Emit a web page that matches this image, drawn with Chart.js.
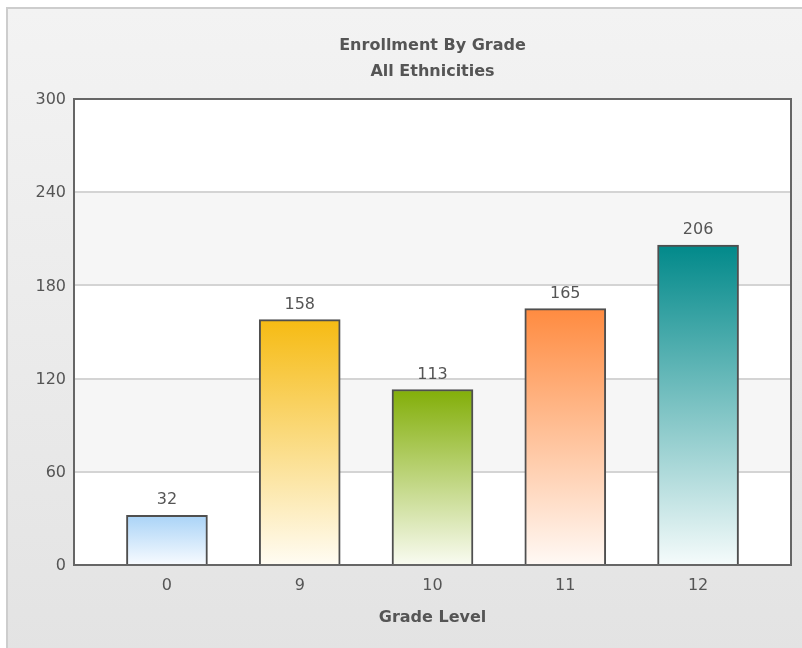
<!DOCTYPE html>
<html>
<head>
<meta charset="utf-8">
<script src="https://cdn.jsdelivr.net/npm/chart.js@4.4.1/dist/chart.umd.min.js"></script>
<style>
    html, body { margin: 0; padding: 0; background: #fff; overflow: hidden; }
    #panel {
        position: absolute; left: 6px; top: 7px; width: 800px; height: 645px;
        border-left: 2px solid #cdcdcd; border-top: 2px solid #cdcdcd;
        background: linear-gradient(#f3f3f3, #e3e3e3);
    }
    #wrap { position: absolute; left: 0; top: 0; width: 802px; height: 648px; }
</style>
</head>
<body>
<div id="panel"></div>
<div id="wrap"><canvas id="chart"></canvas></div>
<script>
const grades = ['0', '9', '10', '11', '12'];
const enrollment = [32, 158, 113, 165, 206];
const yTicks = [0, 60, 120, 180, 240, 300];
const topColors = ['#a9d3f7', '#f6bb13', '#82ae08', '#ff8b40', '#01898a'];
const bottomColors = ['#f8fbff', '#fffcf3', '#f9fbf1', '#fff9f5', '#f5fbfb'];

const TEXT = '#555555';
const FONT = '"DejaVu Sans", Verdana, sans-serif';

// fond du graphique : blanc + bandes grises alternées
const bandsPlugin = {
    id: 'bands',
    beforeDraw(chart) {
        const { ctx, chartArea: a, scales: { y } } = chart;
        ctx.save();
        ctx.fillStyle = '#ffffff';
        ctx.fillRect(a.left, a.top, a.right - a.left, a.bottom - a.top);
        ctx.fillStyle = '#f6f6f6';
        for (let i = 0; i < yTicks.length - 1; i++) {
            if (i % 2 === 1) {
                const top = y.getPixelForValue(yTicks[i + 1]);
                const bottom = y.getPixelForValue(yTicks[i]);
                ctx.fillRect(a.left, top, a.right - a.left, bottom - top);
            }
        }
        ctx.restore();
    },
    afterDatasetsDraw(chart) {
        const { ctx, chartArea: a } = chart;
        ctx.save();
        ctx.strokeStyle = '#666666';
        ctx.lineWidth = 2;
        ctx.strokeRect(a.left, a.top, a.right - a.left, a.bottom - a.top);
        ctx.restore();
    }
};

// titres + valeurs au-dessus des barres
const labelsPlugin = {
    id: 'labels',
    afterDraw(chart) {
        const { ctx, chartArea: a } = chart;
        const cx = (a.left + a.right) / 2;
        ctx.save();
        ctx.fillStyle = TEXT;
        ctx.textAlign = 'center';
        ctx.textBaseline = 'middle';
        ctx.font = 'bold 16px ' + FONT;
        ctx.fillText('Enrollment By Grade', cx, 46);
        ctx.fillText('All Ethnicities', cx, 72);

        ctx.font = '16px ' + FONT;
        chart.getDatasetMeta(0).data.forEach((bar, i) => {
            ctx.fillText(String(enrollment[i]), bar.x, bar.y - 15);
        });
        ctx.restore();
    }
};

const ctx = document.getElementById('chart').getContext('2d');

new Chart(ctx, {
    type: 'bar',
    data: {
        datasets: [{
            data: enrollment.map((v, i) => ({ x: i, y: v })),
            backgroundColor(context) {
                const chart = context.chart;
                const i = context.dataIndex;
                if (!chart.chartArea || i === undefined) return topColors[i] || '#ccc';
                const y = chart.scales.y;
                const top = y.getPixelForValue(enrollment[i]);
                const bottom = y.getPixelForValue(0);
                const g = chart.ctx.createLinearGradient(0, top, 0, bottom);
                g.addColorStop(0, topColors[i]);
                g.addColorStop(1, bottomColors[i]);
                return g;
            },
            borderColor: '#4f4f4f',
            borderWidth: 2,
            barThickness: 81
        }]
    },
    options: {
        responsive: true,
        maintainAspectRatio: false,
        animation: false,
        layout: {
            padding: { top: 99, right: 11, left: 0, bottom: 0 }
        },
        plugins: {
            legend: { display: false },
            tooltip: { enabled: false }
        },
        scales: {
            x: {
                type: 'linear',
                offset: false,
                min: -0.7,
                max: 4.7,
                afterBuildTicks(scale) {
                    scale.ticks = grades.map((g, i) => ({ value: i }));
                },
                afterFit(scale) {
                    scale.height = 83;
                },
                ticks: {
                    color: TEXT,
                    font: { family: FONT, size: 16 },
                    padding: 11,
                    callback: (value) => grades[value]
                },
                grid: { display: false, drawTicks: false, offset: false },
                border: { display: false },
                title: {
                    display: true,
                    text: 'Grade Level',
                    color: TEXT,
                    font: { family: FONT, size: 16, weight: 'bold' },
                    padding: { top: 10, bottom: 21 }
                }
            },
            y: {
                min: 0,
                max: 300,
                afterBuildTicks(scale) {
                    scale.ticks = yTicks.map(v => ({ value: v }));
                },
                afterFit(scale) {
                    scale.width = 74;
                },
                ticks: {
                    color: TEXT,
                    font: { family: FONT, size: 16 },
                    padding: 8,
                    labelOffset: 1
                },
                grid: { color: '#d4d4d4', lineWidth: 2, drawTicks: false },
                border: { display: false }
            }
        }
    },
    plugins: [bandsPlugin, labelsPlugin]
});
</script>
</body>
</html>
